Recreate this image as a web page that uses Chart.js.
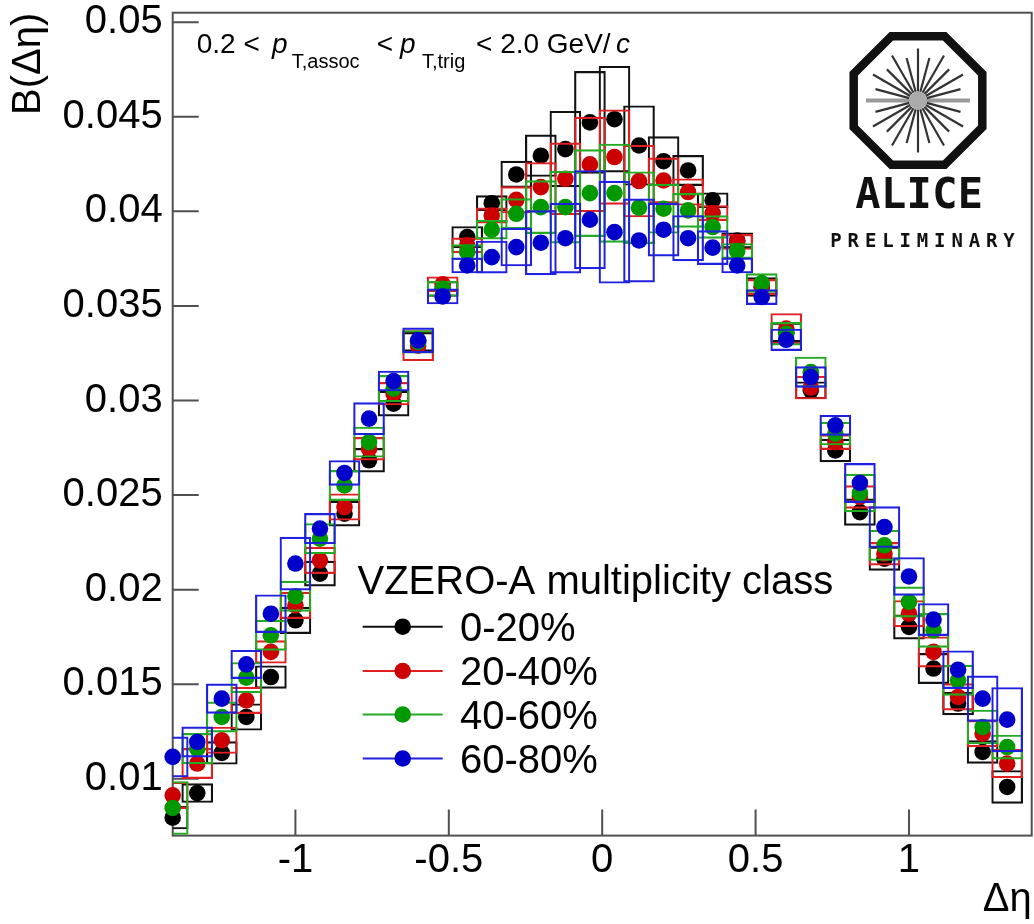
<!DOCTYPE html>
<html>
<head>
<meta charset="utf-8">
<script src="https://cdn.jsdelivr.net/npm/chart.js@4.4.1/dist/chart.umd.min.js"></script>
<style>
  html, body { margin: 0; padding: 0; background: #ffffff; overflow: hidden; }
  #wrap { width: 1040px; height: 924px; }
</style>
</head>
<body>
<div id="wrap"><canvas id="c" width="1040" height="924"></canvas></div>
<script>
// Δη bin centres
const deltaEta = [-1.40, -1.32, -1.24, -1.16, -1.08, -1.00, -0.92, -0.84, -0.76, -0.68, -0.60, -0.52,
                  -0.44, -0.36, -0.28, -0.20, -0.12, -0.04, 0.04, 0.12, 0.20, 0.28, 0.36, 0.44,
                  0.52, 0.60, 0.68, 0.76, 0.84, 0.92, 1.00, 1.08, 1.16, 1.24, 1.32];

// Balance function B(Δη) per VZERO-A multiplicity class
const b0_20  = [0.00795, 0.00925, 0.01137, 0.01327, 0.01538, 0.01838, 0.02085, 0.02402, 0.02684, 0.02983, 0.0331, 0.0359,
                0.03864, 0.04043, 0.04195, 0.04294, 0.04329, 0.0447, 0.04487, 0.04348, 0.04265, 0.04216, 0.04058, 0.03846,
                0.0360, 0.0336, 0.03054, 0.02736, 0.0241, 0.02164, 0.01803, 0.01583, 0.01398, 0.01142, 0.00957];
const b20_40 = [0.00913, 0.01081, 0.01204, 0.01415, 0.01671, 0.01917, 0.02155, 0.02437, 0.02745, 0.03036, 0.0329, 0.03614,
                0.0382, 0.03978, 0.04061, 0.04128, 0.04172, 0.04248, 0.04287, 0.0416, 0.04163, 0.04102, 0.03991, 0.03838,
                0.0360, 0.0338, 0.03068, 0.0278, 0.0249, 0.0219, 0.01873, 0.01671, 0.01433, 0.01239, 0.01081];
const b40_60 = [0.00846, 0.0116, 0.01327, 0.01535, 0.01759, 0.01965, 0.0227, 0.02551, 0.0278, 0.03063, 0.0331, 0.03591,
                0.03784, 0.03903, 0.03987, 0.04022, 0.04022, 0.04096, 0.04096, 0.04019, 0.04014, 0.04005, 0.03917, 0.0379,
                0.03621, 0.03353, 0.0315, 0.02825, 0.02511, 0.02234, 0.01935, 0.01785, 0.01521, 0.01274, 0.01168];
const b60_80 = [0.01116, 0.01195, 0.01424, 0.01605, 0.01873, 0.02138, 0.02323, 0.02617, 0.02904, 0.03103, 0.03318, 0.0355,
                0.03714, 0.03758, 0.03811, 0.03834, 0.03858, 0.03956, 0.0389, 0.03846, 0.03903, 0.03858, 0.03808, 0.03714,
                0.03547, 0.03321, 0.03124, 0.02869, 0.02564, 0.02331, 0.0207, 0.01842, 0.01577, 0.01424, 0.01313];

// Systematic uncertainties (half height of each box)
const sys0_20  = [0.0006, 0.0005, 0.0006, 0.0007, 0.0006, 0.0007, 0.00066, 0.00066, 0.00063, 0.00066, 0.0005, 0.0004,
                  0.00056, 0.0004, 0.0007, 0.0011, 0.0020, 0.0027, 0.0028, 0.0021, 0.0013, 0.0008, 0.0004, 0.0004,
                  0.0005, 0.0005, 0.00045, 0.0006, 0.0007, 0.00062, 0.00064, 0.0008, 0.0006, 0.0006, 0.00087];
const sys20_40 = [0.0007, 0.0008, 0.0007, 0.0007, 0.0006, 0.0007, 0.0007, 0.0007, 0.0006, 0.0006, 0.0008, 0.0004,
                  0.0004, 0.0004, 0.0007, 0.0013, 0.0019, 0.0025, 0.0025, 0.0019, 0.0012, 0.0007, 0.0004, 0.0004,
                  0.0004, 0.0008, 0.0006, 0.0004, 0.0006, 0.0006, 0.0007, 0.0008, 0.0007, 0.0007, 0.00075];
const sys40_60 = [0.0014, 0.0008, 0.0008, 0.0008, 0.0008, 0.0008, 0.0008, 0.0008, 0.0008, 0.0007, 0.0006, 0.0004,
                  0.0004, 0.0005, 0.0008, 0.0014, 0.0019, 0.0023, 0.0026, 0.0019, 0.0013, 0.0009, 0.0006, 0.0004,
                  0.0005, 0.0006, 0.0008, 0.0006, 0.0010, 0.0008, 0.0008, 0.0009, 0.0008, 0.0009, 0.00064];
const sys60_80 = [0.00106, 0.0008, 0.00078, 0.00075, 0.0010, 0.0014, 0.0008, 0.00066, 0.00085, 0.00053, 0.00066, 0.0004,
                  0.0004, 0.00085, 0.0010, 0.0017, 0.00185, 0.0026, 0.0027, 0.0022, 0.0014, 0.0012, 0.0009, 0.0004,
                  0.0004, 0.00057, 0.00055, 0.00053, 0.00104, 0.00108, 0.0010, 0.00085, 0.0010, 0.0012, 0.0017];

const classLabels = ['0-20%', '20-40%', '40-60%', '60-80%'];
const xTickValues = [-1, -0.5, 0, 0.5, 1];
const xTickLabels = ['-1', '-0.5', '0', '0.5', '1'];
const yTickValues = [0.01, 0.015, 0.02, 0.025, 0.03, 0.035, 0.04, 0.045, 0.05];
const yTickLabels = ['0.01', '0.015', '0.02', '0.025', '0.03', '0.035', '0.04', '0.045', '0.05'];

const seriesValues = [b0_20, b20_40, b40_60, b60_80];
const seriesSys = [sys0_20, sys20_40, sys40_60, sys60_80];
const markerColors = ['#000000', '#cc0000', '#009900', '#0000cc'];
const boxColors = ['#111111', '#e02020', '#22aa22', '#2020e0'];

const FONT = "'Liberation Sans', Arial, Helvetica, sans-serif";

// Build datasets: each class gets a box layer (systematics) then its markers on top.
const datasets = [];
seriesValues.forEach((vals, i) => {
  const sys = seriesSys[i];
  datasets.push({
    type: 'bar',
    label: classLabels[i] + ' syst.',
    data: deltaEta.map((x, k) => ({ x: x, y: [vals[k] - sys[k], vals[k] + sys[k]] })),
    backgroundColor: 'rgba(0,0,0,0)',
    borderColor: boxColors[i],
    borderWidth: 1.5,
    borderSkipped: false,
    barThickness: 31,
    grouped: false,
    order: 8 - 2 * i
  });
  datasets.push({
    type: 'scatter',
    label: classLabels[i],
    data: deltaEta.map((x, k) => ({ x: x, y: vals[k] })),
    pointRadius: 8.3,
    pointBackgroundColor: markerColors[i],
    pointBorderWidth: 0,
    showLine: false,
    clip: false,
    order: 7 - 2 * i
  });
});

// Scale boxes keep no extra room for overhanging tick labels
function noLabelPadding(s) {
  s.paddingTop = 0; s.paddingBottom = 0; s.paddingLeft = 0; s.paddingRight = 0;
}

// Frame with inward ticks, ROOT style
const frameAndTicks = {
  id: 'frameAndTicks',
  beforeDatasetsDraw(chart) {
    const { ctx, chartArea: a, scales } = chart;
    ctx.save();
    ctx.strokeStyle = '#505050';
    ctx.lineWidth = 2;
    ctx.strokeRect(a.left, a.top, a.right - a.left, a.bottom - a.top);
    const tl = 26;
    ctx.beginPath();
    xTickValues.forEach(v => {
      const px = scales.x.getPixelForValue(v);
      ctx.moveTo(px, a.bottom);
      ctx.lineTo(px, a.bottom - tl);
    });
    yTickValues.forEach(v => {
      const py = scales.y.getPixelForValue(v);
      ctx.moveTo(a.left, py);
      ctx.lineTo(a.left + tl, py);
    });
    ctx.stroke();
    ctx.restore();
  }
};

// Kinematic range label, legend and logo
const annotations = {
  id: 'annotations',
  afterDraw(chart) {
    const ctx = chart.ctx;
    ctx.save();
    ctx.fillStyle = '#000';
    ctx.textBaseline = 'alphabetic';
    ctx.textAlign = 'left';

    // header: 0.2 < pT,assoc < pT,trig < 2.0 GeV/c
    const mainF = '28px ' + FONT, itF = 'italic 28px ' + FONT, subF = '20px ' + FONT;
    const base = 52.7, subBase = 68;
    const parts = [
      { t: '0.2 <', f: mainF, x: 196.7, y: base },
      { t: 'p', f: itF, x: 272, y: base },
      { t: 'T,assoc', f: subF, x: 291.7, y: subBase },
      { t: '<', f: mainF, x: 376.7, y: base },
      { t: 'p', f: itF, x: 400, y: base },
      { t: 'T,trig', f: subF, x: 422, y: subBase },
      { t: '< 2.0 GeV/', f: mainF, x: 476, y: base },
      { t: 'c', f: itF, x: 616, y: base }
    ];
    parts.forEach(p => { ctx.font = p.f; ctx.fillText(p.t, p.x, p.y); });

    // legend
    ctx.font = '40px ' + FONT;
    ctx.textBaseline = 'middle';
    ctx.fillText('VZERO-A multiplicity class', 357.5, 583);
    const rowY = [626.7, 671, 714.5, 758.5];
    classLabels.forEach((lab, i) => {
      const y = rowY[i];
      ctx.strokeStyle = boxColors[i];
      ctx.lineWidth = 2;
      ctx.beginPath();
      ctx.moveTo(362.7, y);
      ctx.lineTo(442.7, y);
      ctx.stroke();
      ctx.fillStyle = markerColors[i];
      ctx.beginPath();
      ctx.arc(402.7, y, 8.3, 0, Math.PI * 2);
      ctx.fill();
      ctx.fillStyle = '#000';
      ctx.fillText(lab, 460, y + 3);
    });

    // ALICE logo
    const cx = 918, cy = 100.5;
    const R = 64.3 / Math.cos(Math.PI / 8);
    ctx.beginPath();
    for (let k = 0; k < 8; k++) {
      const ang = Math.PI / 8 + k * Math.PI / 4;
      const px = cx + R * Math.cos(ang), py = cy + R * Math.sin(ang);
      if (k === 0) ctx.moveTo(px, py); else ctx.lineTo(px, py);
    }
    ctx.closePath();
    ctx.lineWidth = 8.5;
    ctx.strokeStyle = '#111';
    ctx.lineJoin = 'miter';
    ctx.stroke();
    // starburst
    ctx.strokeStyle = '#9a9a9a';
    ctx.lineWidth = 4;
    ctx.beginPath();
    ctx.moveTo(cx - 52, cy); ctx.lineTo(cx + 52, cy);
    ctx.stroke();
    ctx.strokeStyle = '#333';
    ctx.lineWidth = 2.2;
    for (let k = 0; k < 24; k++) {
      if (k % 12 === 0) continue;
      const ang = k * Math.PI / 12;
      const len = (k % 2 === 0) ? 52 : 44;
      ctx.beginPath();
      ctx.moveTo(cx + 9 * Math.cos(ang), cy + 9 * Math.sin(ang));
      ctx.lineTo(cx + len * Math.cos(ang), cy + len * Math.sin(ang));
      ctx.stroke();
    }
    ctx.fillStyle = '#aaa';
    ctx.beginPath();
    ctx.arc(cx, cy, 9, 0, Math.PI * 2);
    ctx.fill();
    // ALICE / PRELIMINARY
    ctx.fillStyle = '#111';
    ctx.textAlign = 'center';
    ctx.textBaseline = 'alphabetic';
    ctx.font = "bold 42px 'DejaVu Sans Mono', monospace";
    'ALICE'.split('').forEach((ch, i) => ctx.fillText(ch, 868 + i * 25.6, 208));
    ctx.font = "bold 19px 'DejaVu Sans Mono', monospace";
    'PRELIMINARY'.split('').forEach((ch, i) => ctx.fillText(ch, 836 + i * 17.3, 247));
    ctx.restore();
  }
};

new Chart(document.getElementById('c'), {
  type: 'scatter',
  data: { datasets },
  options: {
    responsive: false,
    devicePixelRatio: 1,
    animation: false,
    events: [],
    layout: { padding: { top: 12.7, right: 2.2, left: 0, bottom: 0 } },
    plugins: { legend: { display: false }, tooltip: { enabled: false } },
    scales: {
      x: {
        type: 'linear',
        min: -1.4,
        max: 1.4,
        offset: false,
        grid: { display: false, drawTicks: false },
        border: { display: false },
        afterBuildTicks: s => { s.ticks = xTickValues.map(v => ({ value: v })); },
        afterFit: s => { s.height = 88.4; noLabelPadding(s); },
        ticks: {
          callback: (v, i) => xTickLabels[i],
          font: { family: FONT, size: 40 },
          color: '#000',
          padding: 1,
          maxRotation: 0,
          autoSkip: false
        },
        title: {
          display: true,
          text: 'Δη',
          align: 'end',
          font: { family: FONT, size: 40 },
          color: '#000',
          padding: { top: 0, bottom: 0 }
        }
      },
      y: {
        type: 'linear',
        min: 0.007,
        max: 0.0505,
        grid: { display: false, drawTicks: false },
        border: { display: false },
        afterBuildTicks: s => { s.ticks = yTickValues.map(v => ({ value: v })); },
        afterFit: s => { s.width = 172.7; noLabelPadding(s); },
        ticks: {
          callback: (v, i) => yTickLabels[i],
          font: { family: FONT, size: 40 },
          color: '#000',
          padding: 10,
          autoSkip: false
        },
        title: {
          display: true,
          text: 'B(Δη)',
          align: 'end',
          font: { family: FONT, size: 40 },
          color: '#000',
          padding: { top: 5, bottom: 0 }
        }
      }
    }
  },
  plugins: [frameAndTicks, annotations]
});
</script>
</body>
</html>
